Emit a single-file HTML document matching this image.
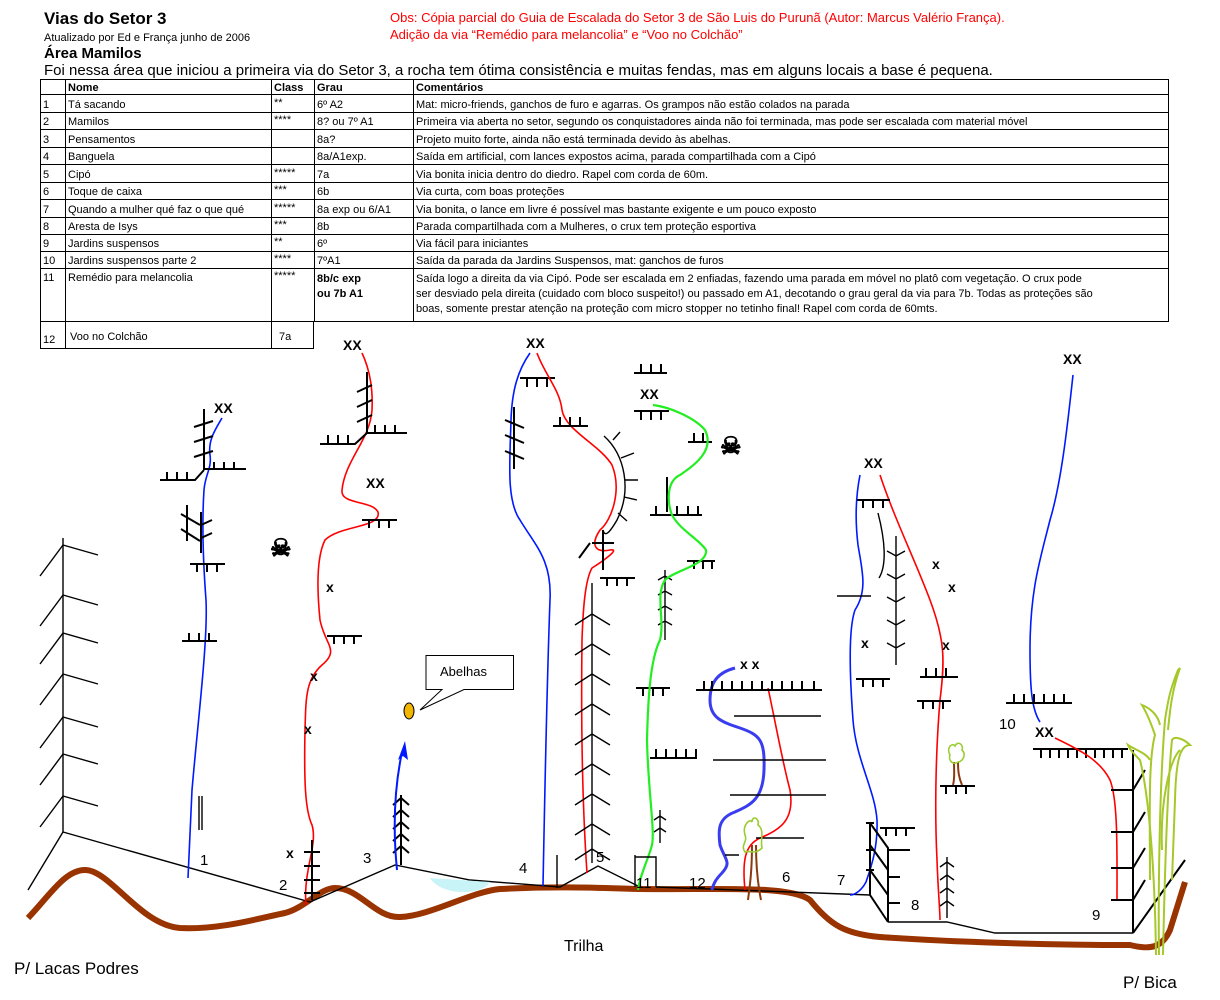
<!DOCTYPE html>
<html><head><meta charset="utf-8"><style>
body{margin:0;background:#fff}
svg{display:block}
text{font-family:"Liberation Sans",Arial,sans-serif}
.t{font-size:11px}
.b{font-weight:bold}
.k{stroke:#000;fill:none;stroke-width:2}
.kt{stroke:#000;fill:none;stroke-width:1.4}
.bl{stroke:#0019ff;fill:none;stroke-width:1.6}
.rd{stroke:#ff0000;fill:none;stroke-width:1.6}
.gr{stroke:#22ee22;fill:none;stroke-width:2.2}
.xx{font-size:14px;font-weight:bold}
.n{font-size:15px}
.sk{font-family:"DejaVu Sans",sans-serif;font-size:24px;font-weight:bold;stroke:#000;stroke-width:1.2}
</style></head><body>
<svg width="1220" height="1000" viewBox="0 0 1220 1000" xmlns="http://www.w3.org/2000/svg">
<!-- header -->
<text x="44" y="24" font-size="17" class="b">Vias do Setor 3</text>
<text x="44" y="41" font-size="11">Atualizado por Ed e França junho de 2006</text>
<text x="44" y="58" font-size="15" class="b">Área Mamilos</text>
<text x="44" y="75" font-size="15">Foi nessa área que iniciou a primeira via do Setor 3, a rocha tem ótima consistência e muitas fendas, mas em alguns locais a base é pequena.</text>
<text x="390" y="22" font-size="13" fill="#ff0000">Obs: Cópia parcial do Guia de Escalada do Setor 3 de São Luis do Purunã (Autor: Marcus Valério França).</text>
<text x="390" y="39" font-size="13" fill="#ff0000">Adição da via “Remédio para melancolia” e “Voo no Colchão”</text>
<!-- table -->
<g stroke="#000" stroke-width="1" fill="none">
<rect x="40.5" y="79.5" width="1128" height="242"/>
<path d="M65.5 79V322M271.5 79V322M314.5 79V322M413.5 79V322"/>
<path d="M40 94.5H1169M40 112.5H1169M40 129.5H1169M40 147.5H1169M40 164.5H1169M40 182.5H1169M40 199.5H1169M40 217.5H1169M40 234.5H1169M40 251.5H1169M40 268.5H1169"/>
<path d="M40.5 322V348M65.5 322V348M271.5 322V348M313.5 322V348M40 348.5H314"/>
</g>
<g class="t">
<text x="68" y="91" class="b">Nome</text><text x="274" y="91" class="b">Class</text><text x="317" y="91" class="b">Grau</text><text x="416" y="91" class="b">Comentários</text>
<text x="43" y="108">1</text><text x="68" y="108">Tá sacando</text><text x="274" y="106">**</text><text x="317" y="108">6º A2</text><text x="416" y="108">Mat: micro-friends, ganchos de furo e agarras. Os grampos não estão colados na parada</text>
<text x="43" y="125">2</text><text x="68" y="125">Mamilos</text><text x="274" y="123">****</text><text x="317" y="125">8? ou 7º A1</text><text x="416" y="125">Primeira via aberta no setor, segundo os conquistadores ainda não foi terminada, mas pode ser escalada com material móvel</text>
<text x="43" y="143">3</text><text x="68" y="143">Pensamentos</text><text x="317" y="143">8a?</text><text x="416" y="143">Projeto muito forte, ainda não está terminada devido às abelhas.</text>
<text x="43" y="160">4</text><text x="68" y="160">Banguela</text><text x="317" y="160">8a/A1exp.</text><text x="416" y="160">Saída em artificial, com lances expostos acima, parada compartilhada com a Cipó</text>
<text x="43" y="178">5</text><text x="68" y="178">Cipó</text><text x="274" y="176">*****</text><text x="317" y="178">7a</text><text x="416" y="178">Via bonita inicia dentro do diedro. Rapel com corda de 60m.</text>
<text x="43" y="195">6</text><text x="68" y="195">Toque de caixa</text><text x="274" y="193">***</text><text x="317" y="195">6b</text><text x="416" y="195">Via curta, com boas proteções</text>
<text x="43" y="213">7</text><text x="68" y="213">Quando a mulher qué faz o que qué</text><text x="274" y="211">*****</text><text x="317" y="213">8a exp ou 6/A1</text><text x="416" y="213">Via bonita, o lance em livre é possível mas bastante exigente e um pouco exposto</text>
<text x="43" y="230">8</text><text x="68" y="230">Aresta de Isys</text><text x="274" y="228">***</text><text x="317" y="230">8b</text><text x="416" y="230">Parada compartilhada com a Mulheres, o crux tem proteção esportiva</text>
<text x="43" y="247">9</text><text x="68" y="247">Jardins suspensos</text><text x="274" y="245">**</text><text x="317" y="247">6º</text><text x="416" y="247">Via fácil para iniciantes</text>
<text x="43" y="264">10</text><text x="68" y="264">Jardins suspensos parte 2</text><text x="274" y="262">****</text><text x="317" y="264">7ºA1</text><text x="416" y="264">Saída da parada da Jardins Suspensos, mat: ganchos de furos</text>
<text x="43" y="281">11</text><text x="68" y="281">Remédio para melancolia</text><text x="274" y="279">*****</text><text x="317" y="282" class="b">8b/c exp</text><text x="317" y="297" class="b">ou 7b A1</text>
<text x="416" y="282">Saída logo a direita da via Cipó. Pode ser escalada em 2 enfiadas, fazendo uma parada em móvel no platô com vegetação. O crux pode</text>
<text x="416" y="297">ser desviado pela direita (cuidado com bloco suspeito!) ou passado em A1, decotando o grau geral da via para 7b. Todas as proteções são</text>
<text x="416" y="312">boas, somente prestar atenção na proteção com micro stopper no tetinho final! Rapel com corda de 60mts.</text>
<text x="43" y="343">12</text><text x="70" y="340">Voo no Colchão</text><text x="279" y="340">7a</text>
</g>

<!-- ground -->
<path d="M28 918 C50 895 65 870 85 870 C110 870 140 925 180 928 C220 930 260 918 285 913 C305 908 320 888 335 888 C360 888 375 918 400 917 C430 916 470 892 500 889 C560 886 600 888 640 889 C720 890 790 885 810 900 C830 925 845 934 880 937 C950 942 1050 945 1130 945 C1150 950 1162 948 1170 930 L1185 882" stroke="#993300" stroke-width="6" fill="none"/>
<!-- rock base -->
<path class="kt" d="M63 832 L310 902 L395 865 L470 880 L560 887 L598 866 L640 887 M656 887 L870 895 M557 855V888 M63 832 L28 890"/>
<path d="M430 878 C440 895 480 897 490 882 Z" fill="#c8f4f8"/>
<!-- left pillar -->
<path class="kt" stroke-width="2" d="M63 538V832"/>
<path class="kt" d="M63 545 L40 576 M63 545 L98 555 M63 595 L40 626 M63 595 L98 605 M63 633 L40 664 M63 633 L98 643 M63 674 L40 705 M63 674 L98 684 M63 717 L40 748 M63 717 L98 727 M63 754 L40 785 M63 754 L98 764 M63 796 L40 827 M63 796 L98 806"/>

<!-- route 1 -->
<text x="214" y="413" class="xx">XX</text>
<path class="bl" d="M222 418 C215 430 208 440 210 455 C212 468 205 475 204 490 C202 520 203 560 206 600 C208 640 198 720 192 790 C190 830 189 860 188 878"/>
<path class="k" d="M204 409V470 M194 427L213 421 M194 442L213 436 M194 457L213 451 M204 469H246 M214 469v-7 M224 469v-7 M234 469v-7 M160 480H195L204 470 M167 480v-8 M177 480v-8 M187 480v-8"/>
<path class="k" d="M187 505V541 M201 512V553 M181 514L200 525 M181 529L200 541 M201 525L212 520 M201 538L212 533 M190 564H225 M197 564v8 M207 564v8 M217 564v8 M182 641H217 M189 641v-8 M199 641v-8 M209 641v-8"/>
<path class="kt" d="M199 796V830 M202 796V830"/>
<text x="200" y="865" class="n">1</text>

<!-- route 2 -->
<text x="343" y="350" class="xx">XX</text>
<path class="rd" d="M362 353 C370 370 373 390 372 410 C370 440 345 460 342 490 C340 505 372 500 378 512 C382 528 340 525 325 540 C315 560 318 600 320 620 C325 645 340 650 322 665 C305 680 306 700 305 730 C304 780 305 810 312 825 C318 845 303 870 306 905"/>
<path class="k" d="M367 372V433 M357 392L372 385 M357 407L372 400 M357 422L372 415 M320 444H355L367 433H407 M328 444v-9 M338 444v-9 M348 444v-9 M375 433v-8 M385 433v-8 M395 433v-8"/>
<text x="366" y="488" class="xx">XX</text>
<path class="k" d="M362 520H397 M369 520v8 M379 520v8 M389 520v8 M327 636H362 M334 636v8 M344 636v8 M354 636v8"/>
<text x="326" y="592" class="xx">x</text><text x="310" y="681" class="xx">x</text><text x="304" y="734" class="xx">x</text><text x="286" y="858" class="xx">x</text>
<path class="k" d="M312 840V900 M304 852H320 M304 866H320 M304 880H320 M304 893H320"/>
<text x="279" y="890" class="n">2</text>
<text x="270" y="556" class="sk">☠</text>

<!-- route 3 & bees -->
<path class="k" d="M401 795V865 M393 805L401 798L409 805 M393 817L401 810L409 817 M393 829L401 822L409 829 M393 841L401 834L409 841 M393 853L401 846L409 853"/>
<path stroke="#0019ff" stroke-width="2" fill="none" d="M397 870 C393 830 394 790 402 752"/>
<path d="M405 741 L398 760 L403 756 L408 760 Z" fill="#0019ff"/>
<text x="363" y="863" class="n">3</text>
<ellipse cx="409" cy="711" rx="5" ry="8" fill="#f2b600" stroke="#000"/>
<path d="M426 655.5H513.5V689.5H464L420 710L442 689.5H426Z" fill="#fff" stroke="#000"/>
<text x="440" y="676" font-size="13">Abelhas</text>

<!-- route 4 -->
<text x="526" y="348" class="xx">XX</text>
<path class="bl" d="M530 353 C518 370 512 390 511 420 C510 460 506 500 520 520 C535 545 552 560 550 600 C547 680 545 780 543 886"/>
<path class="k" d="M514 407V469 M505 420L524 428 M505 435L524 443 M505 451L524 459 M520 378H555 M527 378v9 M537 378v9 M547 378v9"/>
<text x="519" y="873" class="n">4</text>

<!-- route 5 -->
<path class="rd" d="M537 353 C545 375 560 390 562 410 C565 430 600 445 612 465 C622 490 612 520 600 530 C590 545 595 553 610 550 C622 548 600 563 592 568 C585 580 583 610 582 640 C581 720 582 800 587 873"/>
<path class="k" d="M553 426H588 M560 426v-9 M570 426v-9 M580 426v-9"/>
<path class="kt" d="M604 436 C625 455 632 490 617 520 C610 532 605 538 603 530 M613 440L620 432 M621 458L634 453 M625 480L638 480 M624 497L637 500 M618 513L627 521"/>
<path class="k" d="M600 578H635 M607 578v8 M617 578v8 M627 578v8 M603 530V570 M592 543H614 M590 543L579 558"/>
<path class="kt" d="M592 583V863 M575 625L592 614L610 625 M575 655L592 644L610 655 M575 685L592 674L610 685 M575 715L592 704L610 715 M575 745L592 734L610 745 M575 775L592 764L610 775 M575 805L592 794L610 805 M575 835L592 824L610 835 M575 860L592 849L610 860"/>
<text x="596" y="862" class="n">5</text>

<!-- route 11 -->
<path class="k" d="M634 373H667 M641 373v-9 M651 373v-9 M661 373v-9 M634 411H669 M641 411v9 M651 411v9 M661 411v9 M688 442H712 M694 442v-9 M703 442v-9 M650 515H702 M656 515v-9 M677 515v-9 M688 515v-9 M698 515v-9 M687 561H715 M694 561v8 M703 561v8 M712 561v8 M667 477V512 M636 688H670 M643 688v8 M653 688v8 M663 688v8 M650 758H697 M656 758v-9 M666 758v-9 M676 758v-9 M686 758v-9 M696 758v-9"/>
<text x="640" y="399" class="xx">XX</text>
<path class="kt" d="M665 570V640 M658 580L665 576L672 580 M658 595L665 591L672 595 M658 610L665 606L672 610 M658 625L665 621L672 625 M660 810V843 M654 820L660 816L666 820 M654 832L660 828L666 832"/>
<path class="gr" d="M653 405 C670 407 695 418 705 430 C715 450 695 465 680 475 C665 482 668 505 672 515 C680 530 700 540 706 550 C708 565 675 570 665 580 C655 595 665 620 660 640 C650 660 648 700 647 740 C648 790 655 830 652 845 C648 860 640 875 638 890"/>
<path class="kt" d="M635 855V887 M635 857H656V887"/>
<text x="636" y="888" class="n">11</text>
<text x="720" y="454" class="sk">☠</text>

<!-- route 12 & 6 -->
<text x="740" y="669" class="xx">x x</text>
<path stroke="#3a3cf0" stroke-width="3" fill="none" d="M735 668 C720 672 710 680 710 700 C710 718 722 722 740 728 C760 735 765 740 764 770 C763 800 750 805 735 812 C718 818 718 830 720 845 C725 860 732 862 722 873 C715 880 713 885 712 890"/>
<path class="rd" d="M768 688 C775 720 782 760 790 790 C795 820 780 830 760 838 C745 845 742 860 745 890"/>
<path class="k" d="M696 690H822 M704 690v-9 M712 690v-9 M722 690v-9 M732 690v-9 M742 690v-9 M752 690v-9 M762 690v-9 M772 690v-9 M782 690v-9 M792 690v-9 M802 690v-9 M814 690v-9"/>
<path class="kt" d="M734 716H821 M713 760H826 M730 795H826 M756 838H804 M725 855H739"/>
<path d="M752 845 C752 870 750 885 748 900 M756 845 C756 870 758 885 761 900" stroke="#8b3a10" stroke-width="2" fill="none"/>
<path d="M745 835 C742 825 750 818 752 822 C752 815 760 818 758 825 C765 830 760 840 762 848 C755 855 750 850 745 852 C740 845 748 842 745 835Z" fill="none" stroke="#9acd32" stroke-width="1.6"/>
<text x="689" y="888" class="n">12</text>
<text x="782" y="882" class="n">6</text>

<!-- route 7/8 -->
<text x="864" y="468" class="xx">XX</text>
<path class="bl" d="M860 475 C856 495 855 520 858 545 C862 570 868 590 855 610 C848 630 850 680 853 720 C856 760 875 790 877 820 C878 850 870 870 866 882 C862 890 855 895 850 895"/>
<path class="rd" d="M880 475 C895 520 915 560 930 600 C945 640 945 660 940 700 C935 760 935 820 937 860 C938 890 940 910 940 920"/>
<path class="k" d="M857 500H890 M863 500v8 M873 500v8 M883 500v8"/>
<path class="kt" d="M878 513 C885 540 887 565 879 578 M896 536V665 M887 551L896 556L905 551 M887 574L896 579L905 574 M887 597L896 602L905 597 M887 620L896 625L905 620 M887 643L896 648L905 643 M837 596H871"/>
<text x="861" y="648" class="xx">x</text><text x="932" y="569" class="xx">x</text><text x="948" y="592" class="xx">x</text><text x="942" y="650" class="xx">x</text>
<path class="k" d="M856 679H890 M863 679v8 M873 679v8 M883 679v8 M920 677H958 M926 677v-9 M936 677v-9 M946 677v-9 M917 701H951 M923 701v8 M933 701v8 M943 701v8 M940 786H975 M946 786v8 M956 786v8 M966 786v8 M880 828H915 M886 828v8 M896 828v8 M906 828v8"/>
<path class="k" stroke-width="1.6" d="M870 823V895 M870 823L888 848V922 M866 823H874 M870 845L888 870 M870 870L888 895 M870 895L888 922 M888 850H910 M866 850H874 M866 870H874 M888 877H900 M888 903H900"/>
<path class="kt" d="M888 922H947L995 933H1133 M947 857V918 M940 867L947 862L954 867 M940 880L947 875L954 880 M940 893L947 888L954 893 M940 906L947 901L954 906"/>
<path d="M954 762 C954 772 955 778 953 785 M958 762 C958 772 959 778 962 785" stroke="#8b3a10" stroke-width="2" fill="none"/>
<path d="M950 755 C946 748 952 742 955 746 C958 740 964 745 962 750 C967 755 962 762 958 762 C953 766 948 760 950 755Z" fill="none" stroke="#9acd32" stroke-width="1.6"/>
<text x="837" y="885" class="n">7</text>
<text x="911" y="910" class="n">8</text>

<!-- route 10/9 -->
<text x="1063" y="364" class="xx">XX</text>
<path class="bl" d="M1073 375 C1068 420 1062 480 1050 520 C1040 560 1030 590 1030 650 C1030 690 1032 710 1040 722"/>
<path class="k" d="M1006 703H1072 M1014 703v-9 M1024 703v-9 M1034 703v-9 M1044 703v-9 M1054 703v-9 M1064 703v-9"/>
<text x="999" y="729" class="n">10</text>
<text x="1035" y="737" class="xx">XX</text>
<path class="k" d="M1033 749H1128 M1041 749v9 M1050 749v9 M1059 749v9 M1068 749v9 M1077 749v9 M1086 749v9 M1095 749v9 M1104 749v9 M1113 749v9 M1122 749v9"/>
<path class="rd" d="M1055 738 C1080 750 1100 760 1110 780 C1118 800 1117 850 1117 900"/>
<path class="k" stroke-width="1.6" d="M1133 750V933 M1111 790H1133 M1111 832H1133 M1111 868H1133 M1111 900H1133 M1133 790L1145 770 M1133 832L1145 812 M1133 868L1145 848 M1133 900L1145 880 M1133 933L1185 860"/>
<text x="1092" y="920" class="n">9</text>

<!-- grass -->
<g stroke="#a6c82a" stroke-width="2" fill="none">
<path d="M1159 955 C1158 880 1160 780 1165 720 C1168 700 1170 690 1178 670 L1180 668 C1172 690 1170 710 1168 730"/>
<path d="M1163 955 C1165 860 1168 780 1172 740 C1175 735 1185 740 1190 745 C1180 745 1176 760 1175 800 L1172 880"/>
<path d="M1156 955 C1155 880 1150 800 1140 760 C1135 755 1130 750 1128 745 C1135 750 1145 752 1150 760"/>
<path d="M1150 880 C1150 820 1148 760 1155 735 C1150 720 1145 710 1142 705 C1150 708 1158 715 1160 725"/>
<path d="M1162 850 C1160 800 1170 760 1180 750"/>
</g>

<text x="564" y="951" font-size="16">Trilha</text>
<text x="14" y="974" font-size="17">P/ Lacas Podres</text>
<text x="1123" y="988" font-size="17">P/ Bica</text>
</svg>
</body></html>
